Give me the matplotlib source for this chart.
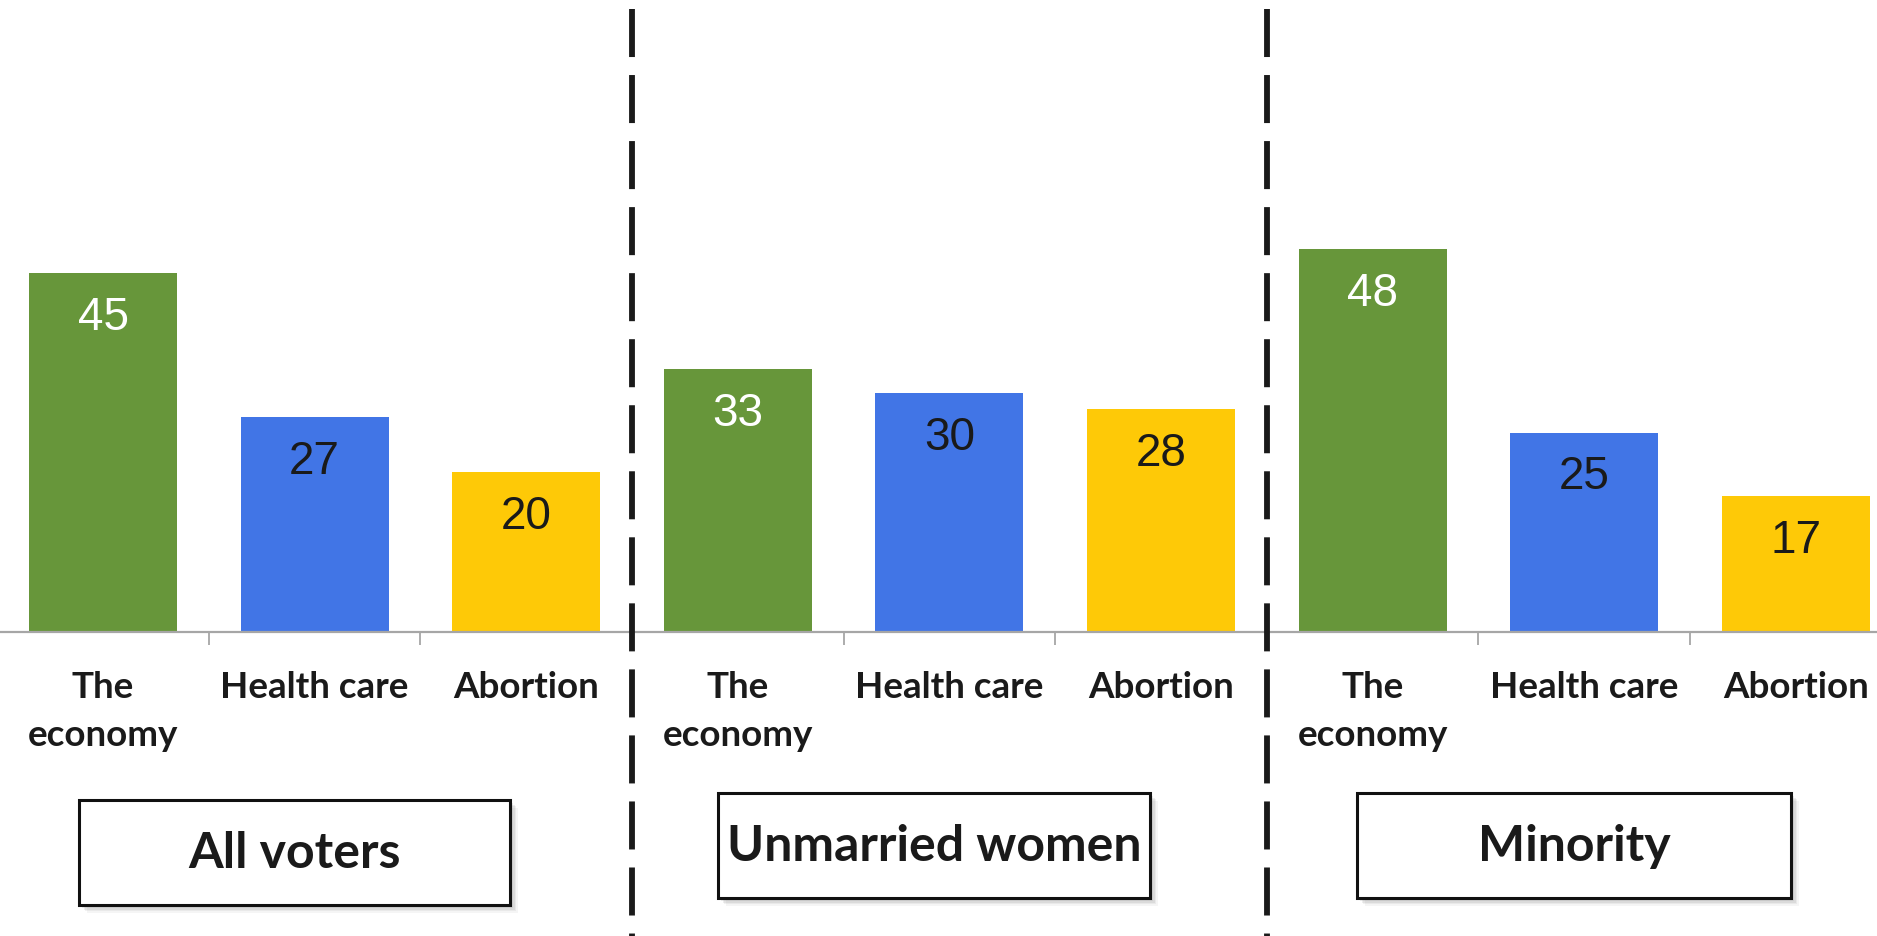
import matplotlib
matplotlib.use('Agg')
import matplotlib.pyplot as plt
from matplotlib.lines import Line2D
from matplotlib.patches import Rectangle
from matplotlib.transforms import blended_transform_factory

# ---- data ----
groups = ['All voters', 'Unmarried women', 'Minority']
issues = ['The\neconomy', 'Health care', 'Abortion']
all_voters = [45, 27, 20]
unmarried_women = [33, 30, 28]
minority = [48, 25, 17]
values = [all_voters, unmarried_women, minority]
colors = ['#67963A', '#4175E6', '#FEC907']
label_colors = ['white', '#1a1a1a', '#1a1a1a']

W, H = 1877, 937
fig = plt.figure(figsize=(W / 100, H / 100), dpi=100)
base_px = 633          # baseline, pixels from top
px_per_unit = 7.98
x0, dx = 103, 211.6    # centre of first category, spacing (px)

ax = fig.add_axes([0, (H - base_px) / H, 1, base_px / H])
ax.set_xlim(-x0 / dx, (W - x0) / dx)
ax.set_ylim(0, base_px / px_per_unit)
ax.patch.set_alpha(0)

to_unit = 1 / px_per_unit
for g, vals in enumerate(values):
    for i, v in enumerate(vals):
        x = g * 3 + i
        ax.bar(x, v, width=0.7, color=colors[i], zorder=2)
        ax.text(x, v - 56 * to_unit, str(v), ha='center', va='baseline',
                fontsize=33, color=label_colors[i], family='Liberation Sans', zorder=3)
        lines = issues[i].split('\n')
        for k, ln in enumerate(lines):
            ax.text(x, -(65 + 48 * k) * to_unit, ln, ha='center', va='baseline',
                    fontsize=26.5, fontweight='bold', family='Lato', color='#1a1a1a',
                    clip_on=False)

for s in ['top', 'left', 'right']:
    ax.spines[s].set_visible(False)
ax.spines['bottom'].set_color('#a6a6a6')
ax.spines['bottom'].set_linewidth(1.6)
ax.set_yticks([])
ax.set_xticks([b + 0.5 for b in range(8)])
ax.set_xticklabels([])
ax.tick_params(axis='x', length=9, width=1.3, color='#a6a6a6')

# dashed separators
bt = blended_transform_factory(ax.transData, fig.transFigure)
for xs in [2.5, 5.5]:
    ln = Line2D([xs, xs], [1 - 10 / H, 0], transform=bt, color='#1a1a1a',
                lw=4.2, linestyle=(0, (48 / 5.83, 18 / 5.83)), solid_capstyle='butt',
                dash_capstyle='butt')
    fig.add_artist(ln)

# group boxes (pixel coords: left, bottom, width, height)
boxes = [(79, 31, 431, 105), (718, 38, 432, 105), (1357, 38, 434, 105)]
for (l, b, w, h), name in zip(boxes, groups):
    for k, a in enumerate([0.10, 0.10, 0.08, 0.06]):
        off = 3 + k * 1.5
        fig.add_artist(Rectangle(((l + off) / W, (b - off) / H), w / W, h / H,
                                 transform=fig.transFigure, facecolor='#606060',
                                 edgecolor='none', alpha=a))
    fig.add_artist(Rectangle((l / W, b / H), w / W, h / H, transform=fig.transFigure,
                             facecolor='white', edgecolor='#111111', lw=2.2))
    fig.text((l + w / 2) / W, (b + h / 2) / H, name, ha='center', va='center',
             fontsize=36, fontweight='bold', family='Lato', color='#1a1a1a')

fig.savefig('out.png', dpi=100, facecolor='white')
